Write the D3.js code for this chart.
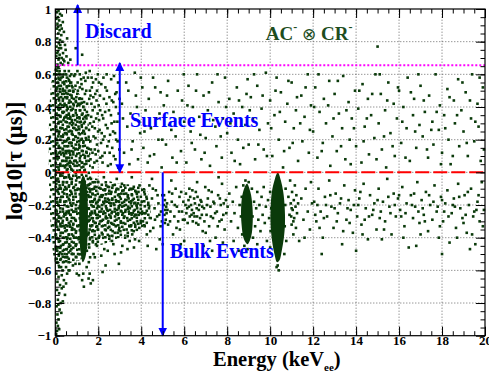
<!DOCTYPE html>
<html>
<head>
<meta charset="utf-8">
<script src="https://cdn.jsdelivr.net/npm/d3@7"></script>
<style>
  body { margin: 0; background: #fff; }
</style>
</head>
<body>
<svg id="chart" width="489" height="374" font-family="Liberation Serif, DejaVu Serif, serif" font-weight="bold"></svg>
<script>
// axis ticks
const xTickValues = [0, 2, 4, 6, 8, 10, 12, 14, 16, 18, 20];
const xTickLabels = ["0", "2", "4", "6", "8", "10", "12", "14", "16", "18", "20"];
const yTickValues = [-1, -0.8, -0.6, -0.4, -0.2, 0, 0.2, 0.4, 0.6, 0.8, 1];
const yTickLabels = ["\u22121", "\u22120.8", "\u22120.6", "\u22120.4", "\u22120.2", "0", "0.2", "0.4", "0.6", "0.8", "1"];

// cut values (log10 tau)
const discardCut = 0.655;
const bulkCut = 0;

// events: [energy keVee, log10 tau]
const discardPts = [[0.08,0.98],[0.15,0.99],[0.22,0.97],[0.12,0.95],[0.3,0.96],[0.18,0.93],[0.1,0.91],[0.25,0.9],[0.35,0.92],[0.07,0.88],[0.2,0.87],[0.14,0.85],[0.28,0.84],[0.4,0.86],[0.09,0.82],[0.22,0.81],[0.33,0.8],[0.16,0.79],[0.06,0.77],[0.27,0.76],[0.45,0.78],[0.12,0.74],[0.36,0.73],[0.2,0.72],[0.05,0.71],[0.3,0.7],[0.52,0.71],[0.15,0.69],[0.42,0.68],[0.25,0.67],[0.1,0.66],[0.6,0.67],[0.35,0.66],[0.48,0.75],[0.18,0.7],[0.08,0.73],[0.23,0.78],[0.38,0.69],[0.13,0.89],[0.05,0.94],[0.3,0.88],[0.55,0.82],[0.95,0.76],[0.7,0.69],[0.17,0.76],[1.25,0.72]];

const tailPts = [[0.05,-0.62],[0.15,-0.64],[0.3,-0.63],[0.1,-0.67],[0.22,-0.69],[0.4,-0.66],[0.08,-0.72],[0.18,-0.74],[0.3,-0.71],[0.45,-0.75],[0.12,-0.78],[0.25,-0.8],[0.35,-0.79],[0.06,-0.82],[0.2,-0.84],[0.1,-0.87],[0.15,-0.9],[0.05,-0.92],[0.12,-0.94],[0.08,-0.97],[0.18,-0.96],[0.04,-0.99],[0.5,-0.68],[0.55,-0.62],[0.28,-0.86],[0.38,-0.7],[0.14,-0.81],[1.6,-0.62],[1.75,-0.66],[2.2,-0.61],[0.62,-0.6],[1.55,-0.65],[1.65,-0.68],[1.0,-0.62],[1.1,-0.63],[1.3,-0.62],[1.25,-0.66],[1.33,-0.7]];

const lowSurfPts = [[0.05,0.6],[0.12,0.55],[0.2,0.62],[0.28,0.58],[0.35,0.5],[0.08,0.47],[0.18,0.44],[0.3,0.41],[0.42,0.54],[0.5,0.6],[0.58,0.48],[0.65,0.56],[0.72,0.43],[0.8,0.52],[0.88,0.59],[0.95,0.38],[1.05,0.5],[1.12,0.45],[1.2,0.57],[1.3,0.4],[1.38,0.48],[1.45,0.33],
[0.06,0.36],[0.14,0.3],[0.24,0.34],[0.33,0.27],[0.4,0.37],[0.48,0.31],[0.55,0.4],[0.62,0.25],[0.7,0.34],[0.78,0.29],[0.86,0.41],[0.93,0.22],[1.0,0.35],[1.08,0.28],[1.16,0.38],[1.25,0.24],[1.33,0.3],[1.42,0.21],
[0.07,0.2],[0.16,0.15],[0.26,0.22],[0.36,0.12],[0.44,0.19],[0.52,0.09],[0.6,0.16],[0.68,0.07],[0.76,0.18],[0.84,0.11],[0.92,0.14],[1.02,0.06],[1.1,0.17],[1.18,0.1],[1.28,0.13],[1.36,0.05],[1.46,0.12],
[0.1,0.08],[0.22,0.04],[0.32,0.07],[0.45,0.03],[0.57,0.05],[0.74,0.02],[0.9,0.04],[1.22,0.03],[0.04,0.28],[0.13,0.39],[0.21,0.51],[0.38,0.6],[0.46,0.46],[0.63,0.62],[0.69,0.5],[0.83,0.35],[0.98,0.46],[1.14,0.6],[1.26,0.51],[1.4,0.56],
[0.09,0.52],[0.19,0.25],[0.27,0.46],[0.34,0.18],[0.51,0.24],[0.59,0.33],[0.66,0.12],[0.81,0.23],[0.89,0.27],[0.97,0.1],[1.06,0.21],[1.19,0.31],[1.31,0.19],[1.48,0.42],[0.03,0.12],[0.15,0.58],[0.41,0.1],[0.54,0.52],[0.75,0.6],[1.03,0.62]];

const denseLowPts = [[0.04,0.63],[0.06,0.51],[0.03,0.44],[0.05,0.33],[0.07,0.26],[0.04,0.17],[0.06,0.09],[0.03,0.01],[0.05,-0.07],[0.07,-0.16],[0.04,-0.23],[0.06,-0.29],[0.03,-0.38],[0.05,-0.47],[0.07,-0.53],
[0.14,0.64],[0.16,0.57],[0.13,0.48],[0.17,0.41],[0.15,0.35],[0.13,0.22],[0.17,0.12],[0.15,0.03],[0.13,-0.04],[0.16,-0.1],[0.14,-0.2],[0.17,-0.27],[0.13,-0.35],[0.15,-0.41],[0.16,-0.51],
[0.24,0.6],[0.26,0.53],[0.23,0.39],[0.27,0.31],[0.25,0.27],[0.23,0.15],[0.27,0.11],[0.24,-0.01],[0.26,-0.1],[0.23,-0.18],[0.27,-0.28],[0.24,-0.33],[0.26,-0.45],[0.23,-0.49],[0.27,-0.58],
[0.34,0.55],[0.36,0.45],[0.33,0.37],[0.37,0.23],[0.35,0.14],[0.33,0.04],[0.37,-0.06],[0.34,-0.12],[0.36,-0.24],[0.33,-0.31],[0.37,-0.4],[0.35,-0.48],[0.36,-0.55],[0.32,0.48],[0.38,0.32],
[0.44,0.62],[0.46,0.5],[0.43,0.42],[0.47,0.34],[0.45,0.24],[0.43,0.16],[0.47,0.07],[0.44,-0.03],[0.46,-0.09],[0.43,-0.2],[0.47,-0.26],[0.44,-0.34],[0.46,-0.43],[0.43,-0.5],[0.48,0.13],
[0.54,0.58],[0.56,0.46],[0.53,0.35],[0.57,0.28],[0.55,0.2],[0.53,0.13],[0.57,0.02],[0.54,-0.06],[0.56,-0.15],[0.53,-0.24],[0.57,-0.33],[0.55,-0.41],[0.56,-0.52],[0.58,0.39],[0.52,0.07],
[0.64,0.53],[0.66,0.44],[0.63,0.36],[0.67,0.3],[0.65,0.18],[0.63,0.09],[0.67,0.04],[0.64,-0.08],[0.66,-0.17],[0.63,-0.25],[0.67,-0.32],[0.65,-0.44],[0.62,-0.49],[0.68,0.59],[0.61,0.21],
[0.74,0.55],[0.76,0.47],[0.73,0.38],[0.77,0.25],[0.75,0.13],[0.73,0.06],[0.77,-0.04],[0.74,-0.12],[0.76,-0.23],[0.73,-0.3],[0.77,-0.38],[0.75,-0.47],[0.78,0.32],[0.72,0.18],
[0.84,0.5],[0.86,0.45],[0.83,0.3],[0.87,0.2],[0.85,0.15],[0.83,0.01],[0.87,-0.09],[0.84,-0.15],[0.86,-0.24],[0.83,-0.32],[0.87,-0.4],[0.85,-0.5],[0.88,0.07],[0.82,0.39],
[0.94,0.53],[0.96,0.43],[0.93,0.32],[0.97,0.26],[0.95,0.17],[0.93,0.07],[0.97,-0.02],[0.94,-0.13],[0.96,-0.2],[0.93,-0.29],[0.97,-0.36],[0.95,-0.45],[0.98,-0.52],[0.92,0.6],
[1.04,0.55],[1.07,0.42],[1.03,0.31],[1.09,0.24],[1.05,0.14],[1.02,0.01],[1.14,0.52],[1.17,0.42],[1.13,0.33],[1.19,0.2],[1.15,0.07],[1.12,0.15],[1.24,0.45],[1.27,0.36],[1.23,0.29],[1.29,0.16],[1.25,0.06],[1.22,0.54],[1.34,0.43],[1.37,0.34],[1.33,0.25],[1.39,0.1],[1.35,0.01],[1.32,0.58],[1.44,0.5],[1.47,0.37],[1.43,0.27],[1.49,0.15],[1.45,0.07],[1.42,0.61],
[0.98,-0.44],[1.48,-0.12],[1.5,-0.22],[1.49,-0.38],[1.47,-0.48],[1.52,-0.04],[1.46,-0.58],
[1.05,-0.1],[1.08,-0.22],[1.04,-0.33],[1.09,-0.41],[1.06,-0.5],[1.58,-0.1],[1.6,-0.29],[1.57,-0.44],[1.62,-0.52],[1.12,-0.56]];

const midSurfPts = [[1.52,0.58],[1.58,0.45],[1.62,0.3],[1.66,0.14],[1.7,0.52],[1.74,0.38],[1.78,0.22],[1.82,0.06],[1.86,0.48],[1.9,0.33],[1.94,0.17],[1.98,0.6],[2.02,0.41],[2.06,0.26],[2.1,0.09],[2.14,0.54],[2.18,0.35],[2.22,0.2],[2.26,0.45],[2.3,0.12],[2.35,0.29],[2.4,0.5],[2.45,0.04],[2.5,0.38],[2.55,0.23],[2.6,0.57],[2.65,0.15],[2.7,0.43],[2.75,0.31],[2.8,0.08],[2.85,0.49],[2.9,0.19],[2.95,0.36],
[1.55,0.2],[1.6,0.62],[1.68,0.42],[1.76,0.55],[1.84,0.27],[1.92,0.44],[2.0,0.13],[2.08,0.47],[2.16,0.24],[2.24,0.58],[2.32,0.37],[2.42,0.16],[2.52,0.46],[2.62,0.3],[2.72,0.1],[2.82,0.4],[2.92,0.55],[1.64,0.08],[1.72,0.28],[1.88,0.11],[2.04,0.32],[2.2,0.06],[2.38,0.42],[2.58,0.05],[2.78,0.24],[2.98,0.14],
[1.53,0.35],[1.57,0.26],[1.61,0.5],[1.63,0.19],[1.67,0.34],[1.69,0.58],[1.73,0.12],[1.77,0.46],[1.79,0.31],[1.83,0.4],[1.87,0.21],[1.89,0.57],[1.93,0.07],[1.97,0.36],[1.99,0.25],[1.54,0.1],[1.64,0.47],[1.74,0.03],[1.84,0.14],[1.94,0.5],
[2.03,0.55],[2.13,0.18],[2.23,0.33],[2.33,0.52],[2.43,0.27],[2.53,0.12],[2.63,0.44],[2.73,0.59],[2.83,0.2],[2.93,0.03],[2.09,0.38],[2.19,0.1],[2.29,0.22],[2.39,0.6],[2.49,0.19],[2.59,0.35],[2.69,0.25],[2.79,0.48],[2.89,0.31],[2.99,0.45]];

const surfacePts = [[3.1,0.42],[3.2,0.12],[3.3,0.55],[3.35,0.28],[3.45,0.05],[3.5,0.36],[3.6,0.19],[3.7,0.61],[3.75,0.47],[3.85,0.08],[3.9,0.31],[3.95,0.24],
[4.05,0.52],[4.1,0.15],[4.2,0.38],[4.3,0.06],[4.35,0.45],[4.45,0.27],[4.55,0.58],[4.6,0.11],[4.7,0.33],[4.8,0.2],[4.9,0.49],[4.95,0.03],
[5.05,0.41],[5.15,0.17],[5.25,0.56],[5.3,0.29],[5.45,0.09],[5.5,0.37],[5.6,0.22],[5.7,0.5],[5.85,0.13],[5.9,0.44],
[6.0,0.31],[6.1,0.06],[6.2,0.53],[6.3,0.25],[6.4,0.4],[6.5,0.14],[6.6,0.6],[6.7,0.34],[6.8,0.08],[6.9,0.47],
[7.0,0.21],[7.1,0.38],[7.2,0.04],[7.3,0.55],[7.45,0.28],[7.5,0.16],[7.6,0.43],[7.75,0.09],[7.8,0.33],[7.9,0.58],
[8.0,0.24],[8.1,0.45],[8.2,0.12],[8.3,0.36],[8.45,0.52],[8.5,0.2],[8.6,0.05],[8.7,0.4],[8.85,0.29],[8.95,0.57],
[9.0,0.17],[9.1,0.46],[9.2,0.33],[9.3,0.08],[9.4,0.53],[9.5,0.26],[9.6,0.39],[9.7,0.14],[9.8,0.61],[9.9,0.3],
[10.0,0.44],[10.1,0.1],[10.2,0.35],[10.3,0.58],[10.4,0.2],[10.5,0.49],[10.6,0.03],[10.7,0.31],[10.8,0.42],[10.9,0.15],
[11.0,0.55],[11.1,0.27],[11.2,0.38],[11.3,0.07],[11.45,0.47],[11.5,0.19],[11.6,0.34],[11.75,0.6],[11.8,0.12],[11.9,0.41],
[12.0,0.25],[12.1,0.52],[12.2,0.09],[12.3,0.37],[12.45,0.18],[12.5,0.45],[12.6,0.3],[12.75,0.56],[12.8,0.04],[12.9,0.22],
[13.0,0.48],[13.1,0.13],[13.2,0.36],[13.35,0.27],[13.4,0.59],[13.5,0.08],[13.65,0.43],[13.7,0.2],[13.8,0.33],[13.95,0.5],
[14.0,0.16],[14.1,0.39],[14.25,0.06],[14.3,0.54],[14.4,0.28],[14.55,0.45],[14.6,0.11],[14.7,0.35],[14.85,0.21],[14.9,0.6],
[15.0,0.77],[15.05,0.3],[15.15,0.48],[15.2,0.14],[15.35,0.38],[15.4,0.03],[15.5,0.55],[15.6,0.24],[15.75,0.42],[15.8,0.1],[15.9,0.33],
[16.0,0.5],[16.1,0.18],[16.2,0.4],[16.35,0.27],[16.4,0.58],[16.5,0.07],[16.65,0.35],[16.7,0.45],[16.8,0.15],[16.95,0.29],
[17.0,0.53],[17.1,0.22],[17.2,0.37],[17.35,0.09],[17.4,0.47],[17.55,0.31],[17.6,0.17],[17.7,0.6],[17.85,0.26],[17.9,0.41],
[18.0,0.12],[18.1,0.35],[18.25,0.51],[18.3,0.2],[18.4,0.05],[18.55,0.44],[18.6,0.3],[18.75,0.57],[18.8,0.16],[18.9,0.38],
[19.0,0.25],[19.1,0.49],[19.2,0.1],[19.35,0.33],[19.4,0.6],[19.5,0.19],[19.65,0.42],[19.7,0.28],[19.8,0.07],[19.9,0.52]];

const surfacePts2 = [[3.15,0.33],[3.4,0.5],[3.55,0.14],[3.8,0.4],[3.98,0.58],
[4.15,0.25],[4.4,0.1],[4.65,0.52],[4.85,0.36],[4.98,0.2],
[5.2,0.47],[5.4,0.26],[5.65,0.06],[5.8,0.33],[5.98,0.6],
[6.15,0.41],[6.35,0.18],[6.55,0.5],[6.75,0.23],[6.95,0.12],
[7.15,0.49],[7.35,0.32],[7.55,0.6],[7.7,0.22],[7.95,0.4],
[8.15,0.3],[8.35,0.07],[8.55,0.44],[8.75,0.15],[8.9,0.48],
[9.05,0.38],[9.25,0.6],[9.45,0.17],[9.65,0.47],[9.85,0.1],
[10.05,0.27],[10.25,0.5],[10.45,0.37],[10.65,0.13],[10.85,0.56],
[11.05,0.18],[11.25,0.46],[11.4,0.3],[11.65,0.52],[11.85,0.26],
[12.05,0.4],[12.25,0.6],[12.4,0.13],[12.7,0.41],[12.95,0.33],
[13.15,0.56],[13.3,0.16],[13.55,0.38],[13.75,0.05],[13.9,0.27],
[14.15,0.5],[14.35,0.19],[14.5,0.33],[14.75,0.48],[14.95,0.08],
[15.1,0.6],[15.3,0.22],[15.45,0.44],[15.7,0.16],[15.95,0.52],
[16.15,0.31],[16.3,0.09],[16.55,0.49],[16.75,0.25],[16.9,0.6],
[17.15,0.44],[17.3,0.14],[17.5,0.26],[17.75,0.37],[17.95,0.05],
[18.15,0.27],[18.35,0.46],[18.5,0.1],[18.7,0.35],[18.95,0.55],
[19.15,0.18],[19.3,0.44],[19.55,0.31],[19.75,0.58],[19.95,0.14]];

const lowBulkPts = [[0.05,-0.05],[0.12,-0.12],[0.2,-0.08],[0.28,-0.15],[0.36,-0.06],[0.44,-0.18],[0.52,-0.1],[0.6,-0.21],[0.68,-0.14],[0.76,-0.07],[0.84,-0.19],[0.92,-0.11],
[0.07,-0.24],[0.15,-0.3],[0.23,-0.22],[0.31,-0.33],[0.39,-0.27],[0.47,-0.36],[0.55,-0.29],[0.63,-0.38],[0.71,-0.26],[0.79,-0.34],[0.87,-0.28],[0.95,-0.4],
[0.06,-0.4],[0.14,-0.46],[0.22,-0.42],[0.3,-0.5],[0.38,-0.44],[0.46,-0.52],[0.54,-0.47],[0.62,-0.55],[0.7,-0.45],[0.78,-0.5],[0.86,-0.43],[0.94,-0.56],
[0.1,-0.55],[0.18,-0.58],[0.26,-0.53],[0.34,-0.6],[0.5,-0.58],[0.66,-0.6],[0.82,-0.57],[0.09,-0.18],[0.25,-0.37],[0.41,-0.13],[0.57,-0.4],[0.73,-0.2],[0.89,-0.35],[0.98,-0.24],[0.04,-0.32],[0.33,-0.02],[0.65,-0.03],[0.97,-0.05]];

const bulkPtsA = [[1.5,-0.08],[1.55,-0.22],[1.6,-0.35],[1.65,-0.15],[1.7,-0.28],[1.75,-0.42],[1.8,-0.1],[1.85,-0.25],[1.9,-0.19],[1.95,-0.33],[2.0,-0.06],[2.05,-0.21],[2.1,-0.3],[2.15,-0.14],[2.2,-0.38],[2.25,-0.24],[2.3,-0.11],[2.35,-0.27],[2.4,-0.18],[2.45,-0.34],[2.5,-0.09],[2.55,-0.23],[2.6,-0.31],[2.65,-0.16],[2.7,-0.44],[2.75,-0.2],[2.8,-0.12],[2.85,-0.29],[2.9,-0.37],[2.95,-0.22],[3.0,-0.15],[3.05,-0.3],[3.1,-0.07],[3.15,-0.25],[3.2,-0.18],[3.25,-0.4],[3.3,-0.13],[3.35,-0.28],[3.4,-0.21],[3.45,-0.33],[3.5,-0.1],[3.55,-0.26],[3.6,-0.17],[3.65,-0.36],[3.7,-0.23],[3.75,-0.12],[3.8,-0.3],[3.85,-0.19],[3.9,-0.42],[3.95,-0.25],
[1.52,-0.3],[1.58,-0.46],[1.62,-0.12],[1.68,-0.2],[1.72,-0.36],[1.78,-0.5],[1.82,-0.17],[1.88,-0.31],[1.92,-0.09],[1.98,-0.26],[2.02,-0.4],[2.08,-0.15],[2.12,-0.24],[2.18,-0.2],[2.22,-0.29],[2.28,-0.47],[2.32,-0.16],[2.38,-0.22],[2.42,-0.28],[2.48,-0.13],[2.52,-0.39],[2.58,-0.19],[2.62,-0.25],[2.68,-0.08],[2.72,-0.32],[2.78,-0.27],[2.82,-0.17],[2.88,-0.23],[2.92,-0.14],[2.98,-0.34],[3.02,-0.2],[3.08,-0.24],[3.12,-0.45],[3.18,-0.11],[3.22,-0.27],[3.28,-0.2],[3.32,-0.35],[3.38,-0.14],[3.42,-0.24],[3.48,-0.29],[3.52,-0.19],[3.58,-0.38],[3.62,-0.1],[3.68,-0.27],[3.72,-0.32],[3.78,-0.2],[3.82,-0.15],[3.88,-0.26],[3.92,-0.08],[3.98,-0.31],
[1.56,-0.55],[1.84,-0.52],[2.14,-0.51],[2.44,-0.48],[2.76,-0.5],[3.06,-0.49],[3.36,-0.47],[3.66,-0.46],[2.96,-0.56],[2.34,-0.57],[1.94,-0.45],[2.64,-0.42],[3.46,-0.42],[1.66,-0.04],[2.26,-0.03],[2.86,-0.04],[3.56,-0.03],
[1.53,-0.14],[1.57,-0.27],[1.61,-0.41],[1.63,-0.07],[1.67,-0.33],[1.69,-0.24],[1.73,-0.13],[1.77,-0.3],[1.79,-0.21],[1.83,-0.36],[1.87,-0.14],[1.89,-0.44],[1.93,-0.28],[1.97,-0.18],[1.99,-0.35],[1.54,-0.38],[1.64,-0.26],[1.74,-0.18],[1.84,-0.06],[1.94,-0.22],
[2.03,-0.17],[2.07,-0.27],[2.11,-0.1],[2.17,-0.33],[2.21,-0.14],[2.27,-0.19],[2.31,-0.35],[2.37,-0.08],[2.41,-0.23],[2.47,-0.3],[2.51,-0.17],[2.57,-0.27],[2.61,-0.12],[2.67,-0.36],[2.71,-0.19],[2.77,-0.24],[2.81,-0.33],[2.87,-0.1],[2.91,-0.26],[2.97,-0.18],[3.03,-0.36],[3.07,-0.13],[3.11,-0.21],[3.17,-0.31],[3.21,-0.08],[3.27,-0.23],[3.31,-0.17],[3.37,-0.39],[3.41,-0.16],[3.47,-0.22],[3.51,-0.33],[3.57,-0.14],[3.61,-0.25],[3.67,-0.19],[3.71,-0.41],[3.77,-0.26],[3.81,-0.22],[3.87,-0.12],[3.91,-0.34],[3.97,-0.2]];

const bulkPtsB = [[4.02,-0.18],[4.08,-0.3],[4.14,-0.12],[4.2,-0.25],[4.26,-0.38],[4.32,-0.2],[4.38,-0.08],[4.44,-0.28],[4.5,-0.16],[4.56,-0.34],[4.62,-0.22],[4.68,-0.11],[4.74,-0.27],[4.8,-0.19],[4.86,-0.41],[4.92,-0.24],[4.98,-0.14],
[5.05,-0.2],[5.08,-0.26],[5.1,-0.17],[5.12,-0.23],[5.14,-0.29],[5.16,-0.21],[5.18,-0.25],[5.1,-0.31],[5.06,-0.14],[5.2,-0.19],
[5.25,-0.32],[5.3,-0.12],[5.36,-0.24],[5.42,-0.18],[5.48,-0.38],[5.54,-0.27],[5.6,-0.1],[5.66,-0.21],[5.72,-0.3],[5.78,-0.15],[5.84,-0.44],[5.9,-0.24],[5.96,-0.18],
[6.02,-0.29],[6.08,-0.13],[6.14,-0.22],[6.2,-0.17],[6.26,-0.27],[6.32,-0.2],[6.38,-0.11],[6.44,-0.25],[6.5,-0.19],[6.56,-0.31],[6.62,-0.15],[6.68,-0.23],[6.74,-0.28],[6.8,-0.18],[6.86,-0.36],[6.92,-0.22],[6.98,-0.09],
[6.1,-0.25],[6.22,-0.21],[6.34,-0.26],[6.46,-0.16],[6.58,-0.22],[6.7,-0.2],[6.82,-0.26],[6.4,-0.3],[6.6,-0.27],[6.28,-0.15],
[7.04,-0.26],[7.1,-0.16],[7.16,-0.33],[7.22,-0.21],[7.28,-0.12],[7.34,-0.28],[7.4,-0.19],[7.46,-0.4],[7.52,-0.24],[7.58,-0.14],[7.64,-0.3],[7.7,-0.2],[7.76,-0.07],[7.82,-0.26],[7.88,-0.35],[7.94,-0.17],
[4.3,-0.45],[4.7,-0.47],[5.5,-0.5],[6.0,-0.42],[6.9,-0.45],[7.3,-0.48],[7.8,-0.43],[4.5,-0.04],[5.4,-0.05],[6.6,-0.06],[7.6,-0.03],[4.9,-0.33],[5.8,-0.35],[7.0,-0.37],
[4.04,-0.24],[4.16,-0.33],[4.24,-0.15],[4.36,-0.22],[4.42,-0.36],[4.54,-0.1],[4.64,-0.29],[4.76,-0.14],[4.84,-0.26],[4.96,-0.3],[5.22,-0.23],[5.34,-0.3],[5.44,-0.13],[5.56,-0.2],[5.64,-0.34],[5.76,-0.24],[5.86,-0.12],[5.94,-0.29],[6.06,-0.2],[6.16,-0.31],[6.24,-0.1],[6.36,-0.23],[6.48,-0.27],[6.54,-0.12],[6.66,-0.32],[6.76,-0.17],[6.84,-0.21],[6.94,-0.3],[7.06,-0.2],[7.14,-0.11],[7.24,-0.27],[7.36,-0.18],[7.44,-0.25],[7.56,-0.33],[7.66,-0.16],[7.74,-0.29],[7.84,-0.19],[7.96,-0.25],[7.2,-0.42],[5.0,-0.44]];

const bulkPtsC = [[8.02,-0.21],[8.1,-0.13],[8.18,-0.3],[8.26,-0.18],[8.34,-0.25],[8.42,-0.09],[8.5,-0.34],[8.58,-0.2],[8.64,-0.27],[8.68,-0.15],[8.7,-0.38],[8.75,-0.08],
[8.8,-0.45],[8.85,-0.05],[8.95,-0.47],[9.0,-0.06],[9.15,-0.1],[9.18,-0.27],[9.2,-0.4],[9.25,-0.18],[9.3,-0.33],[9.35,-0.22],[9.4,-0.12],[9.45,-0.29],[9.5,-0.2],[9.55,-0.36],[9.6,-0.15],[9.65,-0.26],[9.7,-0.09],[9.75,-0.31],[9.8,-0.21],[9.85,-0.42],[9.9,-0.17],[9.95,-0.28],[10.0,-0.12],[10.02,-0.36],[10.05,-0.22],[10.0,-0.46],
[10.7,-0.2],[10.68,-0.33],[10.72,-0.1],[10.75,-0.42],[10.66,-0.5],[10.3,-0.58],[10.4,-0.6],[10.35,-0.57],
[10.85,-0.15],[10.9,-0.26],[10.93,-0.05],[10.96,-0.19],[11.0,-0.32],[11.02,-0.12],[11.05,-0.23],[11.08,-0.38],[11.1,-0.17],[11.12,-0.28],[11.15,-0.08],[11.18,-0.21],[11.2,-0.34],[11.22,-0.14],[11.25,-0.25],[11.3,-0.19],[11.35,-0.42],[11.0,-0.22],[11.08,-0.3],[10.98,-0.27],
[11.45,-0.16],[11.55,-0.29],[11.65,-0.1],[11.75,-0.24],[11.85,-0.35],[11.95,-0.19],[11.6,-0.4],[11.9,-0.06],[8.3,-0.42],[9.4,-0.44],[8.55,-0.48]];

const bulkPtsD = [[12.05,-0.18],[12.15,-0.3],[12.25,-0.1],[12.35,-0.24],[12.45,-0.4],[12.55,-0.15],[12.65,-0.27],[12.75,-0.05],[12.85,-0.21],[12.95,-0.34],
[13.05,-0.13],[13.15,-0.25],[13.25,-0.19],[13.35,-0.44],[13.45,-0.08],[13.55,-0.29],[13.65,-0.17],[13.75,-0.23],[13.85,-0.37],[13.95,-0.11],
[14.05,-0.27],[14.15,-0.16],[14.25,-0.32],[14.35,-0.07],[14.45,-0.22],[14.55,-0.41],[14.65,-0.14],[14.75,-0.26],[14.85,-0.19],[14.95,-0.35],
[15.05,-0.1],[15.15,-0.24],[15.25,-0.18],[15.35,-0.3],[15.45,-0.04],[15.55,-0.21],[15.65,-0.38],[15.75,-0.13],[15.85,-0.27],[15.95,-0.16],
[16.05,-0.23],[16.15,-0.09],[16.25,-0.33],[16.35,-0.19],[16.45,-0.46],[16.55,-0.14],[16.65,-0.28],[16.75,-0.21],[16.85,-0.06],[16.95,-0.31],
[17.05,-0.17],[17.15,-0.26],[17.25,-0.12],[17.35,-0.36],[17.45,-0.2],[17.55,-0.29],[17.65,-0.08],[17.75,-0.24],[17.85,-0.4],[17.95,-0.15],
[18.05,-0.3],[18.15,-0.19],[18.25,-0.11],[18.35,-0.43],[18.45,-0.25],[18.55,-0.16],[18.65,-0.34],[18.75,-0.07],[18.85,-0.22],[18.95,-0.28],
[19.05,-0.14],[19.15,-0.37],[19.25,-0.2],[19.35,-0.1],[19.45,-0.27],[19.55,-0.44],[19.65,-0.18],[19.75,-0.3],[19.85,-0.06],[19.95,-0.23],
[12.1,-0.26],[12.6,-0.2],[13.1,-0.3],[13.6,-0.22],[14.1,-0.2],[14.6,-0.27],[15.1,-0.28],[15.6,-0.25],[16.1,-0.27],[16.6,-0.2],[17.1,-0.22],[17.6,-0.18],[18.1,-0.24],[18.6,-0.21],[19.1,-0.26],[19.6,-0.23],[12.4,-0.5],[14.0,-0.48],[18.0,-0.5],[19.3,-0.47],
[12.2,-0.2],[12.5,-0.28],[12.8,-0.14],[13.0,-0.22],[13.3,-0.16],[13.7,-0.31],[13.9,-0.2],[14.2,-0.12],[14.4,-0.29],[14.8,-0.23],[15.0,-0.17],[15.3,-0.35],[15.5,-0.15],[15.8,-0.2],[16.0,-0.14],[16.3,-0.25],[16.7,-0.13],[16.9,-0.24],[17.2,-0.3],[17.4,-0.14],[17.8,-0.21],[18.0,-0.17],[18.3,-0.27],[18.5,-0.2],[18.8,-0.15],[19.0,-0.31],[19.2,-0.12],[19.5,-0.24],[19.7,-0.14],[19.9,-0.33],[12.3,-0.34],[13.4,-0.36],[14.3,-0.38],[15.2,-0.41],[16.2,-0.4],[17.0,-0.38],[17.9,-0.33],[18.7,-0.4],[19.4,-0.38],[16.8,-0.45]];

// outlines of the saturated regions, [energy, log10 tau]
const lowEDense = [[0.01,0.64],[0.4,0.62],[0.9,0.52],[1.3,0.44],[1.55,0.3],[1.65,0.05],[1.65,-0.3],[1.3,-0.52],[0.6,-0.56],[0.2,-0.58],[0.01,-0.56]];
const bulkBandDense = [[1.6,-0.05],[3,-0.07],[4.2,-0.1],[4.3,-0.32],[3,-0.4],[1.7,-0.44]];
const lPeak = [[1.3,-0.02],[1.42,-0.06],[1.5,-0.16],[1.52,-0.3],[1.49,-0.42],[1.4,-0.52],[1.28,-0.55],[1.17,-0.48],[1.12,-0.34],[1.12,-0.17],[1.18,-0.06]];
const gePeak89 = [[8.92,-0.07],[9.08,-0.12],[9.17,-0.2],[9.19,-0.3],[9.12,-0.39],[8.95,-0.44],[8.78,-0.41],[8.67,-0.32],[8.65,-0.21],[8.74,-0.12]];
const gePeak103 = [[10.36,0.0],[10.5,-0.05],[10.61,-0.12],[10.68,-0.22],[10.69,-0.32],[10.63,-0.41],[10.54,-0.48],[10.43,-0.54],[10.32,-0.55],[10.2,-0.5],[10.09,-0.42],[10.02,-0.32],[10.02,-0.22],[10.08,-0.12],[10.2,-0.05],[10.3,-0.01]];

const W = 489, H = 374;
const margin = { top: 9, right: 4, bottom: 38.3, left: 55.3 };
const svg = d3.select("#chart");
const serif = "Liberation Serif, DejaVu Serif, serif";

const x = d3.scaleLinear().domain([0, 20]).range([margin.left, W - margin.right]);
const y = d3.scaleLinear().domain([-1, 1]).range([H - margin.bottom, margin.top]);

const ptColor = "#0a3a0a";

// speckle texture for saturated regions
const defs = svg.append("defs");
const speckle = [[0.5, 1], [5.5, 0.5], [9.5, 3.5], [2.5, 5.5], [7, 6.5], [11, 8.5], [4, 9.5], [0, 8]];
const pat = defs.append("pattern").attr("id", "speckle").attr("patternUnits", "userSpaceOnUse")
  .attr("width", 13).attr("height", 12);
pat.selectAll("rect").data(speckle).enter().append("rect")
  .attr("x", d => d[0]).attr("y", d => d[1]).attr("width", 2.6).attr("height", 2.6).attr("fill", ptColor);

// grid
const grid = svg.append("g").attr("stroke", "#444").attr("stroke-width", 0.8).attr("stroke-dasharray", "1,2");
grid.selectAll(".gx").data(xTickValues.slice(1, -1)).enter().append("line")
  .attr("x1", d => x(d)).attr("x2", d => x(d)).attr("y1", y(-1)).attr("y2", y(1));
grid.selectAll(".gy").data(yTickValues.slice(1, -1)).enter().append("line")
  .attr("y1", d => y(d)).attr("y2", d => y(d)).attr("x1", x(0)).attr("x2", x(20));

// dense regions
const line = d3.line().x(d => x(d[0])).y(d => y(d[1])).curve(d3.curveCatmullRomClosed);
svg.append("g").selectAll("path").data([lowEDense, bulkBandDense]).enter().append("path")
  .attr("d", line).attr("fill", "url(#speckle)");
svg.append("g").selectAll("path").data([lPeak, gePeak89, gePeak103]).enter().append("path")
  .attr("d", line).attr("fill", ptColor);

// events
const allPts = [].concat(discardPts, tailPts, lowSurfPts, denseLowPts, midSurfPts, surfacePts, surfacePts2, lowBulkPts, bulkPtsA, bulkPtsB, bulkPtsC, bulkPtsD);
svg.append("g").selectAll("rect").data(allPts).enter().append("rect")
  .attr("x", d => x(d[0]) - 1.3).attr("y", d => y(d[1]) - 1.3)
  .attr("width", 2.6).attr("height", 2.6).attr("fill", ptColor);

// cut lines
svg.append("line").attr("x1", x(0)).attr("x2", x(20)).attr("y1", y(discardCut)).attr("y2", y(discardCut))
  .attr("stroke", "#ff00ff").attr("stroke-width", 2).attr("stroke-dasharray", "2,2");
svg.append("line").attr("x1", x(0)).attr("x2", x(20)).attr("y1", y(bulkCut)).attr("y2", y(bulkCut))
  .attr("stroke", "#ff0000").attr("stroke-width", 2).attr("stroke-dasharray", "14,4");

// arrows
defs.append("marker").attr("id", "head").attr("viewBox", "0 0 10 10").attr("refX", 9).attr("refY", 5)
  .attr("markerWidth", 4.5).attr("markerHeight", 7).attr("markerUnits", "strokeWidth").attr("orient", "auto-start-reverse")
  .append("path").attr("d", "M0,0 L10,5 L0,10 z").attr("fill", "#0000ff");
function arrow(e, t0, t1, both) {
  const l = svg.append("line").attr("x1", x(e)).attr("x2", x(e)).attr("y1", y(t0)).attr("y2", y(t1))
    .attr("stroke", "#0000ff").attr("stroke-width", 2).attr("marker-end", "url(#head)");
  if (both) l.attr("marker-start", "url(#head)");
}
arrow(1.04, discardCut, 1.025, false);
arrow(3.0, 0, 0.67, true);
arrow(5.0, 0, -1, false);

const blue = svg.append("g").attr("fill", "#0000ff").attr("font-size", 20).attr("font-family", serif);
blue.append("text").attr("x", x(1.38)).attr("y", y(0.822)).text("Discard");
blue.append("text").attr("x", x(3.48)).attr("y", y(0.277)).text("Surface Events");
blue.append("text").attr("x", x(5.33)).attr("y", y(-0.525)).text("Bulk Events");

// title
const title = svg.append("text").attr("x", x(9.8)).attr("y", y(0.81)).attr("fill", "#1e4d1e")
  .attr("font-size", 19).attr("font-family", serif);
title.append("tspan").text("AC");
title.append("tspan").attr("font-size", 12).attr("dy", -9).text("-");
title.append("tspan").attr("dy", 9).text(" ");
title.append("tspan").attr("font-weight", "normal").attr("font-family", "DejaVu Sans").attr("font-size", 17).text("\u2297");
title.append("tspan").text(" CR");
title.append("tspan").attr("font-size", 12).attr("dy", -9).text("-");

// frame
svg.append("rect").attr("x", x(0)).attr("y", y(1)).attr("width", x(20) - x(0)).attr("height", y(-1) - y(1))
  .attr("fill", "none").attr("stroke", "#000").attr("stroke-width", 1.2);

// axes (ticks pointing inward)
const xMinor = d3.range(0, 20.01, 0.5);
const yMinor = d3.range(-1, 1.001, 0.05);
const xLab = d => xTickLabels[xTickValues.indexOf(d)];
const yLab = d => yTickLabels[yTickValues.indexOf(d)];
function styleAxis(g) {
  g.select(".domain").remove();
  g.attr("font-family", serif).attr("font-size", 13).attr("font-weight", "bold");
  g.selectAll("text").attr("fill", "#000");
}

svg.append("g").attr("transform", `translate(0,${y(-1)})`)
  .call(d3.axisBottom(x).tickValues(xTickValues).tickFormat(xLab).tickSize(-9).tickPadding(0)).call(styleAxis);
svg.append("g").attr("transform", `translate(0,${y(-1)})`)
  .call(d3.axisBottom(x).tickValues(xMinor).tickFormat("").tickSize(-4.5)).call(styleAxis);
svg.append("g").attr("transform", `translate(0,${y(1)})`)
  .call(d3.axisTop(x).tickValues(xTickValues).tickFormat("").tickSize(-9)).call(styleAxis);
svg.append("g").attr("transform", `translate(0,${y(1)})`)
  .call(d3.axisTop(x).tickValues(xMinor).tickFormat("").tickSize(-4.5)).call(styleAxis);

svg.append("g").attr("transform", `translate(${x(0)},0)`)
  .call(d3.axisLeft(y).tickValues(yTickValues).tickFormat(yLab).tickSize(-9).tickPadding(4)).call(styleAxis);
svg.append("g").attr("transform", `translate(${x(0)},0)`)
  .call(d3.axisLeft(y).tickValues(yMinor).tickFormat("").tickSize(-4.5)).call(styleAxis);
svg.append("g").attr("transform", `translate(${x(20)},0)`)
  .call(d3.axisRight(y).tickValues(yTickValues).tickFormat("").tickSize(-9)).call(styleAxis);
svg.append("g").attr("transform", `translate(${x(20)},0)`)
  .call(d3.axisRight(y).tickValues(yMinor).tickFormat("").tickSize(-4.5)).call(styleAxis);

// axis titles
const xt = svg.append("text").attr("x", 213).attr("y", 366).attr("font-size", 20.5).attr("fill", "#000").attr("font-family", serif);
xt.append("tspan").text("Energy (keV");
xt.append("tspan").attr("font-size", 11).attr("dy", 4.5).text("ee");
xt.append("tspan").attr("dy", -4.5).text(")");

svg.append("text").attr("transform", "translate(22,161) rotate(-90)").attr("text-anchor", "middle")
  .attr("font-size", 22.5).attr("fill", "#000").attr("font-family", serif).text("log10[\u03c4 (\u03bcs)]");
</script>
</body>
</html>
